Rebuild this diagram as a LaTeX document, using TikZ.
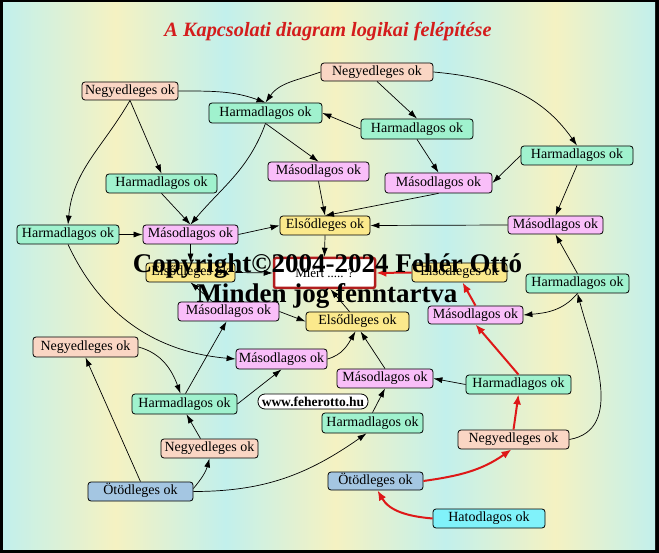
\documentclass[tikz,border=0pt]{standalone}
\usepackage{fontspec}
\setmainfont{Liberation Serif}
\usetikzlibrary{arrows.meta,calc}
\definecolor{cNegy}{RGB}{250,214,196}
\definecolor{cHarm}{RGB}{160,242,206}
\definecolor{cMas}{RGB}{249,190,249}
\definecolor{cEls}{RGB}{251,233,140}
\definecolor{cOt}{RGB}{164,198,226}
\definecolor{cHat}{RGB}{128,242,250}
\definecolor{bgC}{RGB}{194,240,236}
\definecolor{bgY}{RGB}{245,242,194}
\definecolor{cRed}{RGB}{222,24,24}
\definecolor{cTitle}{RGB}{212,28,28}
\definecolor{cBox}{RGB}{178,30,30}
\begin{document}
\begin{tikzpicture}[x=1pt,y=1pt,
  box/.style={draw=black,line width=0.8pt,rounded corners=3pt,inner sep=0pt,
    minimum height=19pt,font=\fontsize{14}{14}\selectfont,text height=9.6pt,text depth=3pt},
  negy/.style={box,fill=cNegy},
  harm/.style={box,fill=cHarm},
  mas/.style={box,fill=cMas},
  els/.style={box,fill=cEls},
  otod/.style={box,fill=cOt},
  hatod/.style={box,fill=cHat},
  conn/.style={line width=0.7pt,-{Latex[length=9pt,width=6pt]}},
  rconn/.style={line width=2pt,draw=cRed,-{Latex[length=10pt,width=8pt]}},
  copytext/.style={font=\bfseries\fontsize{27}{27}\selectfont,anchor=base,inner sep=0pt}
]
\useasboundingbox (0,0) rectangle (659,-553);
\fill[black] (0,0) rectangle (659,-553);
\shade[left color=bgC,right color=bgY] (3,-3) rectangle (115.5,-549);
\shade[left color=bgY,right color=bgC] (115,-3) rectangle (225.5,-549);
\shade[left color=bgC,right color=bgY] (225,-3) rectangle (335.5,-549);
\shade[left color=bgY,right color=bgC] (335,-3) rectangle (445.5,-549);
\shade[left color=bgC,right color=bgY] (445,-3) rectangle (555.5,-549);
\shade[left color=bgY,right color=bgC] (555,-3) rectangle (655,-549);

\node[font=\bfseries\itshape\fontsize{20.3}{20}\selectfont,text=cTitle,anchor=base,inner sep=0pt] (title) at (328,-37) {A Kapcsolati diagram logikai felépítése};

\node[negy,minimum width=96pt,minimum height=18pt] (N1) at (130,-91) {Negyedleges ok};
\node[negy,minimum width=112pt,minimum height=18pt] (N2) at (377,-72) {Negyedleges ok};
\node[harm,minimum width=113pt,minimum height=20pt] (H1) at (265.5,-113) {Harmadlagos ok};
\node[harm,minimum width=112pt,minimum height=20pt] (H2) at (417,-129) {Harmadlagos ok};
\node[harm,minimum width=112pt] (H3) at (577,-155.5) {Harmadlagos ok};
\node[harm,minimum width=111pt] (H4) at (161.5,-183.5) {Harmadlagos ok};
\node[mas,minimum width=101pt] (M1) at (318.5,-171.5) {Másodlagos ok};
\node[mas,minimum width=107pt,minimum height=20pt] (M2) at (438.5,-183) {Másodlagos ok};
\node[harm,minimum width=102pt] (H5) at (68,-234.5) {Harmadlagos ok};
\node[mas,minimum width=95pt] (M3) at (190.5,-234.5) {Másodlagos ok};
\node[els,minimum width=90pt] (E1) at (325,-225.5) {Elsődleges ok};
\node[mas,minimum width=95pt,minimum height=18pt] (M4) at (555.5,-225) {Másodlagos ok};
\node[els,minimum width=89pt] (E2) at (190.5,-272.5) {Elsődleges ok};
\node[draw=cBox,line width=2.5pt,fill=white,minimum width=101pt,minimum height=30pt,rounded corners=2pt,inner sep=0pt,font=\fontsize{13}{13}\selectfont] (Miert) at (324.5,-273) {Miért ..... ?};
\node[els,minimum width=95pt] (E3) at (459.5,-272.5) {Elsődleges ok};
\node[harm,minimum width=103pt] (H6) at (577.5,-283.5) {Harmadlagos ok};
\node[mas,minimum width=101pt] (M5) at (228.5,-311.5) {Másodlagos ok};
\node[els,minimum width=103pt] (E4) at (357.5,-321.5) {Elsődleges ok};
\node[mas,minimum width=95pt,minimum height=18pt] (M6) at (475.5,-315) {Másodlagos ok};
\node[negy,minimum width=105pt,minimum height=20pt] (N3) at (85.5,-347) {Negyedleges ok};
\node[mas,minimum width=91pt,minimum height=20pt] (M7) at (281.5,-359) {Másodlagos ok};
\node[mas,minimum width=96pt] (M8) at (385,-378.5) {Másodlagos ok};
\node[harm,minimum width=105pt] (H7) at (518.5,-384.5) {Harmadlagos ok};
\node[harm,minimum width=105pt,minimum height=20pt] (H8) at (184.5,-404) {Harmadlagos ok};
\node[draw=black,line width=0.8pt,fill=white,rounded corners=7pt,minimum width=110pt,minimum height=15pt,inner sep=0pt,font=\bfseries\fontsize{13.5}{14}\selectfont] (www) at (313,-401.5) {www.feherotto.hu};
\node[harm,minimum width=101pt,minimum height=20pt] (H9) at (372.5,-423) {Harmadlagos ok};
\node[negy,minimum width=111pt] (N4) at (513.5,-439.5) {Negyedleges ok};
\node[negy,minimum width=97pt] (N5) at (209.5,-448.5) {Negyedleges ok};
\node[otod,minimum width=95pt,minimum height=18pt] (O2) at (375.5,-481) {Ötödleges ok};
\node[otod,minimum width=105pt] (O1) at (140.5,-491.5) {Ötödleges ok};
\node[hatod,minimum width=112pt] (Hat) at (489,-518.5) {Hatodlagos ok};

\draw[conn] (N1.east) to[out=0,in=160] (H1.north);
\draw[conn] (N2.west) to[out=200,in=55] (H1.north);
\draw[conn] (N1.south) -- (H4.north);
\draw[conn] (N1.south) to[out=240,in=85] (H5.north);
\draw[conn] (H1.south) to[out=250,in=50] (M3.north);
\draw[conn] (H1.south) -- (M1.north);
\draw[conn] (H4.south) -- (M3.north);
\draw[conn] (H2.west) -- (H1.east);
\draw[conn] (N2.south) -- (H2.north);
\draw[conn] (N2.east) to[out=-5,in=125] (H3.north);
\draw[conn] (H2.south) -- (M2.north);
\draw[conn] (H3.west) -- (M2.east);
\draw[conn] (H3.south) -- (M4.north);
\draw[conn] (M2.south) -- (E1.north);
\draw[conn] (M1.south) -- (E1.north);
\draw[conn] (M4.west) -- (E1.east);
\draw[conn] (H5.east) -- (M3.west);
\draw[conn] (M3.east) -- (E1.west);
\draw[conn] (M3.south) -- (E2.north);
\draw[conn] (E1.south) -- (Miert.north);
\draw[conn] (E2.east) -- (Miert.west);
\draw[conn] ($(M5.north)+(-16,0)$) -- (E2.south);
\draw[conn] ($(E4.north)+(-8,0)$) -- ($(Miert.south)+(6,0)$);
\draw[rconn] (E3.west) -- (Miert.east);
\draw[rconn] (M6.north) -- ($(E3.south)+(3,0)$);
\draw[rconn] (H7.north) -- (M6.south);
\draw[rconn] (N4.north) -- (H7.south);
\draw[rconn] (O2.east) to[out=8,in=215] ($(N4.south)+(-2,0)$);
\draw[rconn] (Hat.west) to[out=175,in=-60] ($(O2.south)+(2,0)$);
\draw[conn] (N4.east) to[out=10,in=-75] (H6.south);
\draw[conn] (H6.north) -- (M4.south);
\draw[conn] (H6.south) to[out=230,in=5] (M6.east);
\draw[conn] (H7.west) -- (M8.east);
\draw[conn] (M8.north) -- ($(E4.south)+(3,0)$);
\draw[conn] (M7.east) to[out=15,in=240] ($(E4.south)+(-2,0)$);
\draw[conn] (M5.east) -- (E4.west);
\draw[conn] (H5.south) to[out=-65,in=175] (M7.west);
\draw[conn] (N3.east) to[out=-15,in=110] ($(H8.north)+(-4,0)$);
\draw[conn] ($(H8.north)+(1,0)$) -- ($(M5.south)+(-2,0)$);
\draw[conn] (H8.east) -- (M7.south);
\draw[conn] ($(N5.north)+(-9,0)$) -- ($(H8.south)+(2,0)$);
\draw[conn] (O1.north) -- (N3.south);
\draw[conn] ($(O1.east)+(0,3)$) to[out=50,in=255] (N5.south);
\draw[conn] (O1.east) to[out=0,in=215] ($(H9.south)+(-6,0)$);
\draw[conn] (H9.north) -- (M8.south);

\node[copytext] (copy1) at (327.5,-273) {Copyright©2004-2024 Fehér Ottó};
\node[copytext] (copy2) at (327,-303) {Minden jog fenntartva};
\end{tikzpicture}
\end{document}
